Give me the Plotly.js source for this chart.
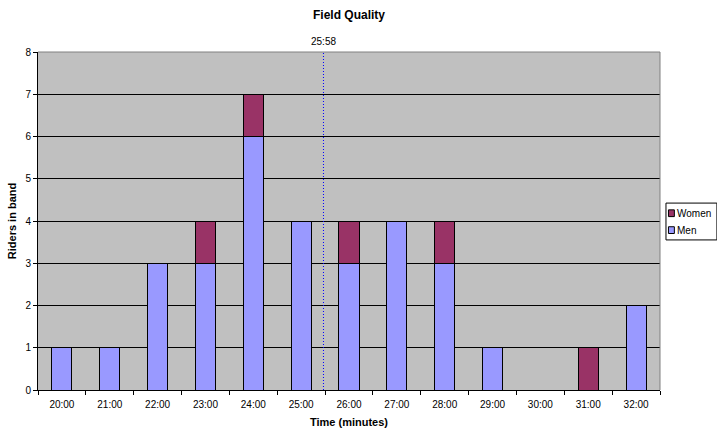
<!DOCTYPE html>
<html>
<head>
<meta charset="utf-8">
<script src="https://cdn.plot.ly/plotly-3.0.1.min.js"></script>
<style>
  body { margin: 0; background: #fff; }
  #chart { width: 717px; height: 428px; }
</style>
</head>
<body>
<div id="chart"></div>
<script>
// Chart data
const times = ['20:00', '21:00', '22:00', '23:00', '24:00', '25:00', '26:00',
               '27:00', '28:00', '29:00', '30:00', '31:00', '32:00'];
const men   = [1, 1, 3, 3, 6, 4, 3, 4, 3, 1, 0, 0, 2];
const women = [0, 0, 0, 1, 1, 0, 1, 0, 1, 0, 0, 1, 0];
const markerLabel = '25:58';
const markerMinutes = 25 + 58 / 60;
const firstMinute = 20;

const menColor = '#9999ff';
const womenColor = '#993366';

// Each band is drawn centred on its label, so shift by half a band
const markerPos = markerMinutes - firstMinute - 0.5;

const font = 'Liberation Sans, Arial, sans-serif';

const traces = [
    {
        x: times, y: men, name: 'Men', type: 'bar',
        marker: { color: menColor, line: { color: '#000', width: 1 } },
        hoverinfo: 'skip'
    },
    {
        x: times, y: women, name: 'Women', type: 'bar',
        marker: { color: womenColor, line: { color: '#000', width: 1 } },
        hoverinfo: 'skip'
    }
];

// Small Excel-style legend box to the right of the plot (paper coords)
const legendItems = [
    { name: 'Women', color: womenColor },
    { name: 'Men', color: menColor }
];
const legX0 = 1.0096, legX1 = 1.0915, legTop = 0.553, legBottom = 0.444;
const legendShapes = [{
    type: 'rect', xref: 'paper', yref: 'paper',
    x0: legX0, x1: legX1, y0: legBottom, y1: legTop,
    fillcolor: '#fff', line: { color: '#000', width: 1 }
}];
const legendNotes = [];
legendItems.forEach((item, i) => {
    const yc = legTop - 0.03 - i * 0.05;
    legendShapes.push({
        type: 'rect', xref: 'paper', yref: 'paper',
        x0: legX0 + 0.004, x1: legX0 + 0.0135, y0: yc - 0.01, y1: yc + 0.01,
        fillcolor: item.color, line: { color: '#000', width: 1 }
    });
    legendNotes.push({
        text: item.name, xref: 'paper', yref: 'paper',
        x: legX0 + 0.016, y: yc, xanchor: 'left', yanchor: 'middle',
        showarrow: false, borderpad: 0, font: { size: 10 }
    });
});

const layout = {
    width: 717,
    height: 428,
    margin: { l: 38, r: 57, t: 52, b: 38 },
    paper_bgcolor: '#fff',
    plot_bgcolor: '#c0c0c0',
    barmode: 'stack',
    bargap: 0.58,
    showlegend: false,
    font: { family: font, size: 10, color: '#000' },
    title: {
        text: 'Field Quality',
        font: { family: font, size: 12, color: '#000', weight: 'bold' },
        x: 0.5, xref: 'paper', y: 0.965, yanchor: 'middle'
    },
    xaxis: {
        type: 'category',
        tickson: 'boundaries',
        ticks: 'outside',
        ticklen: 4,
        tickcolor: '#000',
        ticklabelstandoff: 5,
        showline: true,
        linecolor: '#000',
        showgrid: false,
        tickfont: { size: 10 },
        title: {
            text: 'Time (minutes)',
            font: { family: font, size: 11, weight: 'bold' },
            standoff: 9
        }
    },
    yaxis: {
        range: [0, 8],
        dtick: 1,
        ticks: 'outside',
        ticklen: 4,
        tickcolor: '#000',
        showline: true,
        linecolor: '#000',
        gridcolor: '#000',
        gridwidth: 1,
        zeroline: false,
        tickfont: { size: 10 },
        title: {
            text: 'Riders in band',
            font: { family: font, size: 11, weight: 'bold' },
            standoff: 6
        }
    },
    shapes: [
        {
            type: 'line', xref: 'x', yref: 'paper',
            x0: markerPos, x1: markerPos, y0: 0, y1: 1,
            line: { color: '#0000ff', width: 1, dash: '1px,2px' },
            layer: 'above'
        },
        {
            type: 'line', xref: 'paper', yref: 'paper',
            x0: 0, x1: 1, y0: 1, y1: 1,
            line: { color: '#808080', width: 1 },
            layer: 'above'
        },
        {
            type: 'line', xref: 'paper', yref: 'paper',
            x0: 1, x1: 1, y0: 0, y1: 1,
            line: { color: '#808080', width: 1 },
            layer: 'above'
        }
    ].concat(legendShapes),
    annotations: [
        {
            text: markerLabel, xref: 'x', yref: 'paper',
            x: markerPos, y: 1, yanchor: 'bottom', yshift: 3,
            showarrow: false, font: { size: 10 }
        }
    ].concat(legendNotes)
};

Plotly.newPlot('chart', traces, layout, { displayModeBar: false, staticPlot: true });
</script>
</body>
</html>
